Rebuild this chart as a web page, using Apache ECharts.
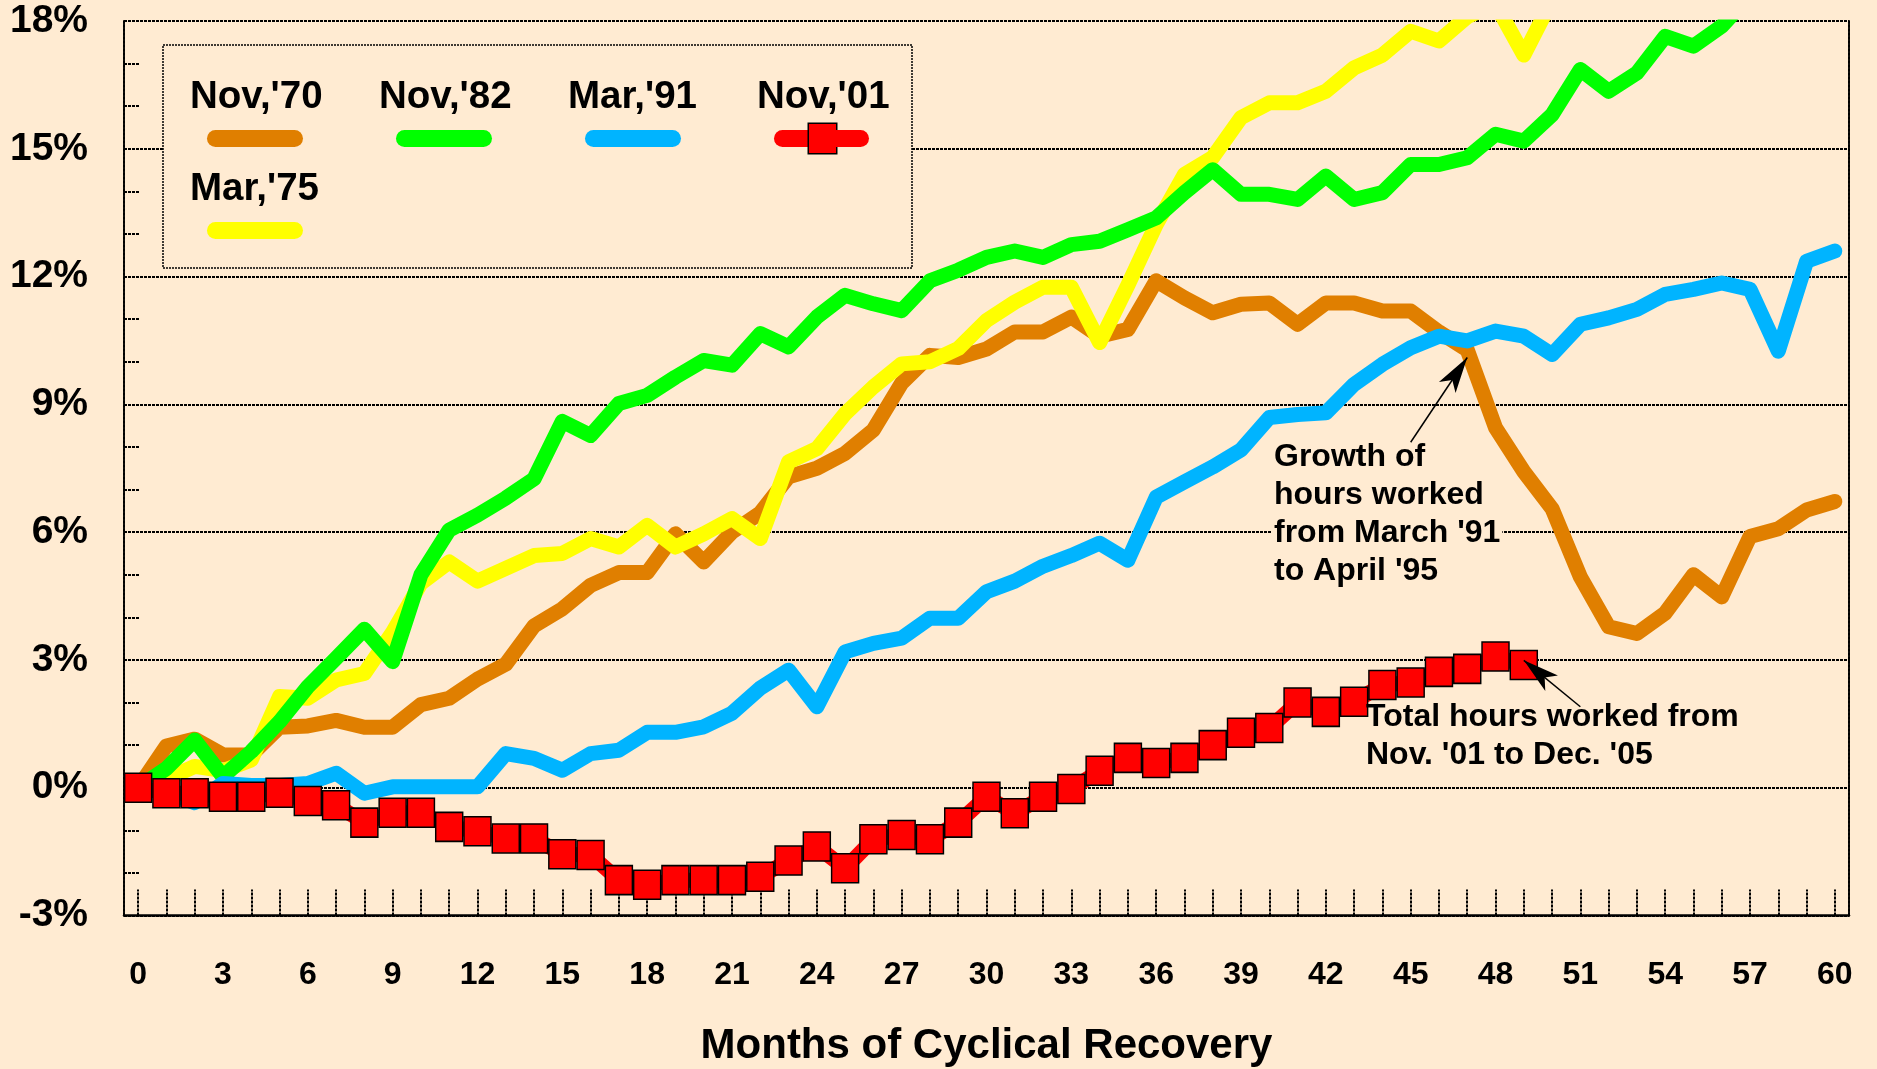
<!DOCTYPE html>
<html>
<head>
<meta charset="utf-8">
<script src="https://cdn.jsdelivr.net/npm/echarts/dist/echarts.min.js"></script>
<style>
  html, body { margin: 0; padding: 0; background: #ffebd2; }
  #chart { width: 1877px; height: 1069px; }
</style>
</head>
<body>
<div id="chart"></div>
<script>
// months of recovery (x categories)
const months = ['0','1','2','3','4','5','6','7','8','9','10','11','12','13','14','15','16','17','18','19',
  '20','21','22','23','24','25','26','27','28','29','30','31','32','33','34','35','36','37','38','39',
  '40','41','42','43','44','45','46','47','48','49','50','51','52','53','54','55','56','57','58','59','60'];

// cumulative growth of hours worked, %
const nov70 = [0, 0.98, 1.14, 0.77, 0.77, 1.42, 1.45, 1.58, 1.42, 1.42,
  1.95, 2.1, 2.55, 2.9, 3.8, 4.2, 4.75, 5.05, 5.05, 5.96,
  5.3, 6.0, 6.45, 7.3, 7.5, 7.85, 8.4, 9.5, 10.15, 10.1,
  10.3, 10.7, 10.7, 11.05, 10.6, 10.76, 11.9, 11.5, 11.15, 11.35,
  11.38, 10.88, 11.38, 11.38, 11.19, 11.19, 10.7, 10.28, 8.45, 7.42,
  6.55, 4.95, 3.78, 3.62, 4.1, 5.0, 4.48, 5.9, 6.08, 6.52, 6.72];
const nov82 = [0, 0.45, 1.12, 0.26, 0.85, 1.55, 2.37, 3.04, 3.72, 2.96,
  5.0, 6.05, 6.4, 6.8, 7.25, 8.6, 8.27, 9.02, 9.21, 9.64,
  10.03, 9.92, 10.66, 10.35, 11.05, 11.56, 11.36, 11.2, 11.9, 12.15,
  12.45, 12.6, 12.45, 12.75, 12.83, 13.1, 13.38, 13.97, 14.51, 13.93,
  13.93, 13.81, 14.36, 13.81, 13.97, 14.63, 14.63, 14.79, 15.34, 15.18,
  15.8, 16.86, 16.35, 16.78, 17.64, 17.41, 17.88, 18.6];
const mar91 = [0, -0.1, -0.35, 0.1, 0.05, 0.05, 0.1, 0.34, -0.13, 0.02,
  0.02, 0.02, 0.02, 0.8, 0.69, 0.41, 0.8, 0.88, 1.3, 1.3,
  1.43, 1.75, 2.34, 2.76, 1.9, 3.19, 3.39, 3.51, 3.98, 3.98,
  4.6, 4.85, 5.2, 5.45, 5.74, 5.34, 6.82, 7.18, 7.53, 7.93,
  8.69, 8.76, 8.8, 9.47, 9.94, 10.33, 10.6, 10.49, 10.72, 10.6,
  10.17, 10.88, 11.03, 11.23, 11.58, 11.7, 11.85, 11.7, 10.25, 12.36, 12.6];
const nov01 = [0, -0.13, -0.13, -0.21, -0.21, -0.12, -0.31, -0.41, -0.82, -0.59,
  -0.59, -0.92, -1.02, -1.19, -1.19, -1.56, -1.58, -2.17, -2.28, -2.17,
  -2.17, -2.17, -2.09, -1.71, -1.38, -1.89, -1.21, -1.11, -1.21, -0.82,
  -0.21, -0.6, -0.21, -0.03, 0.4, 0.7, 0.58, 0.7, 1.0, 1.29,
  1.4, 2.0, 1.78, 2.02, 2.41, 2.47, 2.72, 2.79, 3.08, 2.88];
const mar75 = [0, 0.2, 0.5, 0.4, 0.65, 2.14, 2.1, 2.53, 2.68, 3.65,
  4.8, 5.3, 4.85, 5.15, 5.45, 5.5, 5.85, 5.65, 6.16, 5.65,
  5.96, 6.32, 5.85, 7.65, 7.96, 8.78, 9.41, 9.95, 10.0, 10.31,
  10.97, 11.4, 11.75, 11.75, 10.45, 11.8, 13.22, 14.4, 14.8, 15.73,
  16.08, 16.08, 16.35, 16.9, 17.2, 17.76, 17.53, 18.1, 18.4, 17.2, 18.5];

const legendRow1 = ["Nov,'70", "Nov,'82", "Mar,'91", "Nov,'01"];
const legendRow2 = ["Mar,'75"];

const FONT = '"Liberation Sans", Arial, Helvetica, sans-serif';
const BG = '#ffebd2';
const colors = { nov70: '#e07f00', nov82: '#00ff00', mar91: '#00b4ff', nov01: '#ff0000', mar75: '#ffff00' };
const legendKey = { "Nov,'70": 'o', "Nov,'82": 'g', "Mar,'91": 'b', "Mar,'75": 'y' };

const chart = echarts.init(document.getElementById('chart'));

const lineSeries = (name, data, color) => ({
  name, type: 'line', data,
  showSymbol: false,
  lineStyle: { color, width: 15, cap: 'round', join: 'round' },
  itemStyle: { color },
  emphasis: { disabled: true }
});

const bar = (color) => ({ width: 96, height: 17, lineHeight: 38, backgroundColor: color, borderRadius: 8.5 });
const dots = { color: '#000', width: 2, type: [3, 1] };

// legend: name on top, line sample below
const legendBase = {
  left: 185, padding: 0,
  itemWidth: 0, itemHeight: 0, itemGap: 2,
  icon: 'none', selectedMode: false,
  lineStyle: { width: 0, opacity: 0 },
  itemStyle: { opacity: 0, borderWidth: 0 },
  formatter: name => name === "Nov,'01"
    ? '{n|' + name + '}\n{sp|}{rl|}{sq|}{rr|}'
    : '{n|' + name + '}\n{sp|}{' + legendKey[name] + '|}',
  textStyle: {
    rich: {
      n: { fontSize: 38.5, fontWeight: 'bold', fontFamily: FONT, color: '#000', width: 182, lineHeight: 44 },
      sp: { width: 17, height: 17, lineHeight: 38 },
      o: bar(colors.nov70), g: bar(colors.nov82), b: bar(colors.mar91), y: bar(colors.mar75),
      rl: { width: 35, height: 17, lineHeight: 38, backgroundColor: colors.nov01, borderRadius: [8.5, 0, 0, 8.5] },
      sq: { width: 27, height: 29, lineHeight: 38, backgroundColor: colors.nov01, borderColor: '#000', borderWidth: 1.5 },
      rr: { width: 33, height: 17, lineHeight: 38, backgroundColor: colors.nov01, borderRadius: [0, 8.5, 8.5, 0] }
    }
  }
};

chart.setOption({
  animation: false,
  backgroundColor: BG,
  textStyle: { fontFamily: FONT },
  grid: { left: 124, right: 28, top: 21, bottom: 153.5, containLabel: false, outerBoundsMode: 'none' },
  legend: [
    Object.assign({}, legendBase, { top: 78, data: legendRow1 }),
    Object.assign({}, legendBase, { top: 170, data: legendRow2 })
  ],
  xAxis: {
    type: 'category', data: months, boundaryGap: true,
    name: 'Months of Cyclical Recovery', nameLocation: 'middle', nameGap: 110, nameMoveOverlap: false,
    nameTextStyle: { fontSize: 42, fontWeight: 'bold', fontFamily: FONT, color: '#000' },
    axisLine: { show: true, onZero: false, lineStyle: { color: '#000', width: 2.5 } },
    axisTick: { show: true, inside: true, length: 26, interval: 0, alignWithLabel: true, lineStyle: dots },
    axisLabel: { interval: 2, margin: 44, fontSize: 32, fontWeight: 'bold', fontFamily: FONT, color: '#000' },
    splitLine: { show: false }
  },
  yAxis: [{
    type: 'value', min: -3, max: 18, interval: 3, position: 'left',
    axisLine: { show: true, lineStyle: dots },
    axisTick: { show: true, inside: true, length: 16, lineStyle: dots },
    minorTick: { show: true, splitNumber: 3, length: 16, lineStyle: dots },
    axisLabel: { formatter: '{value}%', margin: 36, fontSize: 39, fontWeight: 'bold', fontFamily: FONT, color: '#000' },
    splitLine: { show: true, lineStyle: dots }
  }, {
    type: 'value', min: -3, max: 18, interval: 3, position: 'right',
    axisLine: { show: true, lineStyle: dots },
    axisTick: { show: false }, axisLabel: { show: false }, splitLine: { show: false }
  }],
  series: [
    lineSeries("Nov,'70", nov70, colors.nov70),
    lineSeries("Mar,'75", mar75, colors.mar75),
    lineSeries("Nov,'82", nov82, colors.nov82),
    lineSeries("Mar,'91", mar91, colors.mar91),
    {
      name: "Nov,'01", type: 'line', data: nov01,
      symbol: 'rect', symbolSize: [27, 29], showSymbol: true, showAllSymbol: true,
      itemStyle: { color: colors.nov01, borderColor: '#000', borderWidth: 1.5 },
      lineStyle: { color: colors.nov01, width: 15, cap: 'round', join: 'round' },
      emphasis: { disabled: true },
      markLine: {
        silent: true,
        symbol: ['none', 'arrow'],
        lineStyle: { color: '#000', width: 1.5, type: 'solid' },
        label: { show: false },
        emphasis: { disabled: true },
        data: [
          [{ coord: [45, 8.11] }, { coord: [47, 10.1], symbol: 'arrow', symbolSize: [15, 36] }],
          [{ coord: [51, 1.9] }, { coord: [49, 2.99], symbol: 'arrow', symbolSize: [15, 36] }]
        ]
      }
    }
  ],
  graphic: [
    // legend frame (covers the gridlines behind it)
    { type: 'rect', z: 1, shape: { x: 163, y: 45, width: 749, height: 223 },
      style: { fill: BG, stroke: '#000', lineWidth: 1.5, lineDash: [2, 1] } },
    // hide the part of thick lines that runs above the 18% frame
    { type: 'rect', z: 100, shape: { x: 125.5, y: 0, width: 1722, height: 19.5 }, style: { fill: BG } },
    { type: 'text', z: 1, x: 1272, y: 438,
      style: { text: "Growth of\nhours worked\nfrom March '91\nto April '95", fontSize: 32, fontWeight: 'bold',
        fontFamily: FONT, fill: '#000', lineHeight: 38, backgroundColor: BG, padding: [0, 2],
        align: 'left', verticalAlign: 'top' } },
    { type: 'text', z: 5, x: 1366, y: 698,
      style: { text: "Total hours worked from\nNov. '01 to Dec. '05", fontSize: 32, fontWeight: 'bold',
        fontFamily: FONT, fill: '#000', lineHeight: 38, align: 'left', verticalAlign: 'top' } }
  ]
});
</script>
</body>
</html>
